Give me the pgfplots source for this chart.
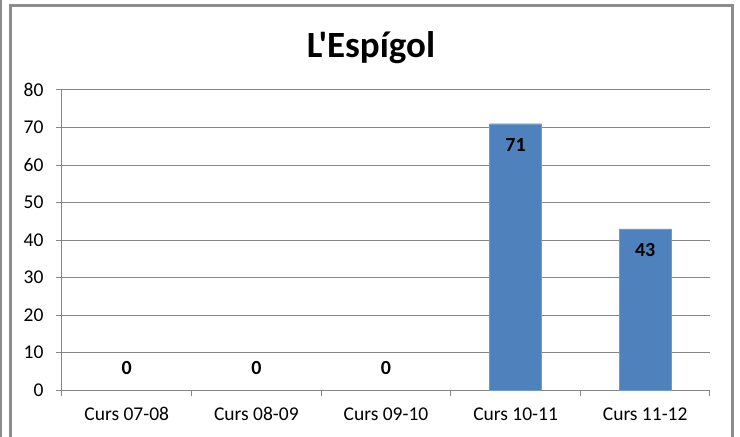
\documentclass[border=0pt]{standalone}
\usepackage{pgfplots}
\pgfplotsset{compat=1.18}
\usepackage{fontspec}
\setmainfont{Carlito}
\newfontfamily\titlefont{Carlito}[Ligatures=TeXOff]
\definecolor{barblue}{HTML}{4F81BD}
\definecolor{gridgray}{HTML}{868686}
\definecolor{framegray}{HTML}{8C8C8C}
\begin{document}
\begin{tikzpicture}
\begin{scope}[x=1pt,y=1pt,shift={(-62pt,-47pt)}]
\useasboundingbox (0,0) rectangle (740,437);
\fill[white] (0,0) rectangle (740,437);
\draw[framegray, line width=2pt] (1,0) -- (1,437);
\draw[framegray, line width=3pt] (11,0) -- (11,431) -- (732.3,431) -- (732.3,0);
\node[anchor=base, font=\titlefont\fontsize{37}{44}\selectfont\bfseries] at (371,379) {L'Espígol};
\end{scope}
\begin{axis}[
  name=ax, anchor=origin,
  scale only axis, width=648pt, height=300pt,
  xmin=0, xmax=5, ymin=0, ymax=80,
  axis x line=bottom, axis y line=left,
  axis line style={gridgray, line width=1pt, -},
  xtick={0.5,1.5,2.5,3.5,4.5},
  xticklabels={Curs 07-08, Curs 08-09, Curs 09-10, Curs 10-11, Curs 11-12},
  minor xtick={0,1,2,3,4,5},
  ytick={0,10,...,80},
  major x tick style={draw=none},
  minor tick length=6pt,
  major tick length=6pt,
  tick align=outside,
  tick style={gridgray, line width=1pt},
  ymajorgrids, grid style={gridgray, line width=1pt},
  ticklabel style={font=\fontsize{19.5}{23}\selectfont},
  /pgf/number format/assume math mode=true,
  yticklabel style={xshift=-9pt},
  xticklabel style={yshift=-8pt},
  clip=false,
]
\addplot[ybar, bar width=52pt, bar shift=0pt, fill=barblue, draw=barblue!80!white,
  nodes near coords,
  every node near coord/.append style={font=\fontsize{20}{24}\selectfont\bfseries, black, anchor=center, yshift=-21pt}]
  coordinates {(3.5,71) (4.5,43)};
\addplot[ybar, bar width=52pt, bar shift=0pt, draw=none, fill=none,
  nodes near coords,
  every node near coord/.append style={font=\fontsize{20}{24}\selectfont\bfseries, black, anchor=center, yshift=22pt}]
  coordinates {(0.5,0) (1.5,0) (2.5,0)};
\end{axis}
\end{tikzpicture}
\end{document}
